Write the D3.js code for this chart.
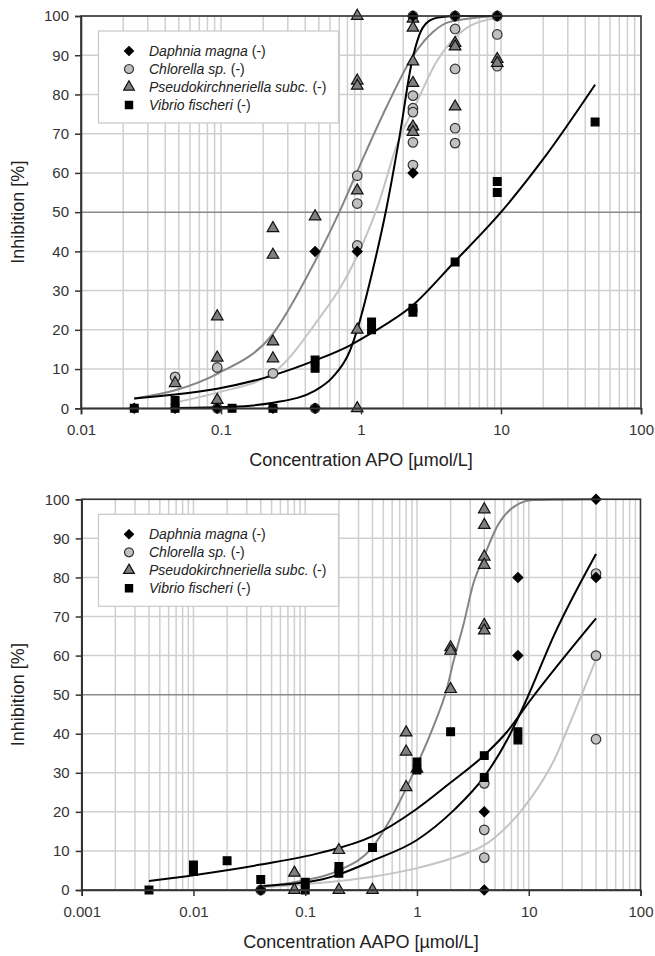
<!DOCTYPE html>
<html>
<head>
<meta charset="utf-8">
<script src="https://cdn.jsdelivr.net/npm/d3@7"></script>
<style>
body { margin: 0; background: #fff; }
svg { display: block; font-family: "Liberation Sans", Arial, sans-serif; }
</style>
</head>
<body>
<svg id="chart"></svg>
<script>
// legend names
var species = ["Daphnia magna", "Chlorella sp.", "Pseudokirchneriella subc.", "Vibrio fischeri"];
var yTicks = [0, 10, 20, 30, 40, 50, 60, 70, 80, 90, 100];
var apoTicks = [0.01, 0.1, 1, 10, 100];
var aapoTicks = [0.001, 0.01, 0.1, 1, 10, 100];

// APO measured points [conc, inhibition]
var apoDaphnia = [[0.024,0],[0.047,0],[0.094,0],[0.235,0],[0.47,0],[0.47,40],[0.94,40],[2.35,60],[2.35,100],[4.7,100],[9.4,100]];
var apoChlorella = [[0.047,8],[0.094,10.4],[0.094,0],[0.235,8.9],[0.47,0],[0.94,59.3],[0.94,52.2],[0.94,41.5],
  [2.35,100],[2.35,79.7],[2.35,76.5],[2.35,75.5],[2.35,71.4],[2.35,67.8],[2.35,62],
  [4.7,100],[4.7,96.7],[4.7,86.5],[4.7,71.4],[4.7,67.6],[9.4,100],[9.4,95.3],[9.4,87.2]];
var apoPseudo = [[0.047,6.4],[0.094,23.4],[0.094,12.9],[0.094,2.1],[0.235,45.9],[0.235,39.1],[0.235,17],[0.235,12.7],
  [0.47,48.9],[0.94,100],[0.94,83.5],[0.94,82.2],[0.94,55.5],[0.94,20],[0.94,0],
  [2.35,99.3],[2.35,97],[2.35,88.4],[2.35,82.9],[2.35,71.8],[2.35,70.4],[4.7,93.1],[4.7,92.2],[4.7,76.9],[9.4,89],[9.4,88]];
var apoVibrio = [[0.024,0],[0.047,0],[0.047,2],[0.12,0],[0.235,0],[0.47,12.3],[0.47,10.2],[1.19,22],[1.19,20],
  [2.35,25.5],[2.35,24.5],[4.7,37.3],[9.4,57.8],[9.4,55],[47,73]];

// APO fitted curves
var apoDaphniaFit = [[0.047,0.1],[0.12,0.4],[0.235,1.4],[0.47,4.5],[0.63,8],[0.83,14.5],[0.93,19.5],[1.19,34],[1.52,51],
  [1.9,70],[2.3,88],[2.6,95],[3.0,98.5],[3.66,99.7],[5,100],[9.4,100]];
var apoChlorellaFit = [[0.047,1.5],[0.094,4],[0.235,9],[0.47,21.5],[0.93,38.5],[1.33,52],[1.8,67],[2.5,78],[3.47,88.4],
  [4.3,93],[6,97.5],[9.4,99.5]];
var apoPseudoFit = [[0.024,2.5],[0.047,4.6],[0.094,8.8],[0.235,19],[0.47,37.5],[0.7,50],[0.93,60],[1.53,77],[2.37,90],
  [3.28,96],[4.3,98.5],[9.4,100]];
var apoVibrioFit = [[0.024,2.5],[0.047,3.5],[0.094,5],[0.235,8.4],[0.47,12.2],[0.83,16],[1.19,19.2],[2.3,26],[4.7,37.5],
  [10,50],[20,63.5],[47,82.5]];

// AAPO measured points
var aapoDaphnia = [[0.04,0],[4,20],[4,0],[8,80],[8,60],[40,100],[40,80]];
var aapoChlorella = [[0.04,0],[4,27.3],[4,15.4],[4,8.3],[40,81],[40,60],[40,38.6]];
var aapoPseudo = [[0.08,4.4],[0.08,0],[0.2,10.2],[0.2,0],[0.4,0],[0.8,40.3],[0.8,35.4],[0.8,26.3],[1,31],
  [2,62.1],[2,61.2],[2,51.4],[4,97.4],[4,93.4],[4,85.3],[4,83.2],[4,67.8],[4,66.4]];
var aapoVibrio = [[0.004,0],[0.01,6.4],[0.01,4.7],[0.02,7.5],[0.04,2.7],[0.1,0],[0.1,2],[0.2,6],[0.2,4.3],[0.4,10.9],
  [1,32.8],[1,30.7],[2,40.5],[4,34.4],[4,28.8],[8,40.5],[8,38.4]];

// AAPO fitted curves
var aapoDaphniaFit = [[0.04,1],[0.136,2.6],[0.2,4],[0.4,7.5],[1,12.8],[2.15,20.5],[4,29],[6.4,38.4],[9.3,48],[16.7,65],[40,86]];
var aapoChlorellaFit = [[0.04,0.7],[0.1,1.5],[0.2,2.3],[0.4,3.4],[1,5.6],[2,8],[3,9.8],[4,11.5],[6,15.5],[8.4,20],
  [12,26],[16.7,33],[23.6,43],[40,59]];
var aapoPseudoFit = [[0.04,0.8],[0.08,2],[0.2,5],[0.4,11],[0.575,18],[0.8,26],[1,32],[1.41,42],[1.85,51.5],[2.12,58.5],
  [2.61,68],[3.2,78.5],[3.94,85],[5.2,93],[7.3,98],[11,99.8],[40,100]];
var aapoVibrioFit = [[0.004,2.3],[0.01,3.8],[0.04,6.5],[0.136,9.5],[0.4,13.8],[1,20.8],[2,27.5],[4,34.5],[6.4,40.5],[10.3,48.5],[40,69.5]];

var width = 655, height = 956;
var svg = d3.select("#chart").attr("width", width).attr("height", height);

var styles = [
  {shape: d3.symbolSquare, rot: 45, fill: "#000", stroke: "#000", line: "#000", size: 48},
  {shape: d3.symbolCircle, rot: 0, fill: "#c0c0c0", stroke: "#333", line: "#c4c4c4", size: 72},
  {shape: d3.symbolTriangle, rot: 0, fill: "#808080", stroke: "#111", line: "#858585", size: 58},
  {shape: d3.symbolSquare, rot: 0, fill: "#000", stroke: "#000", line: "#000", size: 60}
];

var drawgraph = function(cfg) {
  var g = svg.append("g");
  var x = d3.scaleLog().domain(cfg.xDomain).range([cfg.left, cfg.right]);
  var y = d3.scaleLinear().domain([0, 100]).range([cfg.bottom, cfg.top]);

  // minor log grid
  var grid = [];
  var lo = Math.log10(cfg.xDomain[0]), hi = Math.log10(cfg.xDomain[1]);
  for (var e = lo; e < hi; e++) {
    for (var k = 1; k < 10; k++) grid.push(k * Math.pow(10, e));
  }
  g.selectAll(".vgrid").data(grid).enter().append("line")
    .attr("x1", d => x(d)).attr("x2", d => x(d))
    .attr("y1", cfg.top).attr("y2", cfg.bottom)
    .attr("stroke", "#cfcfcf").attr("stroke-width", 1.5);
  g.selectAll(".hgrid").data(yTicks).enter().append("line")
    .attr("x1", cfg.left).attr("x2", cfg.right)
    .attr("y1", d => y(d)).attr("y2", d => y(d))
    .attr("stroke", d => d == 50 ? "#8a8a8a" : "#cfcfcf").attr("stroke-width", 1.5);

  // legend box
  var lg = g.append("g");
  lg.append("rect").attr("x", 98.5).attr("y", cfg.top + 15).attr("width", 240).attr("height", 92)
    .attr("fill", "#fff").attr("stroke", "#c8c8c8").attr("stroke-width", 1.2);
  species.forEach(function(name, i) {
    var yy = cfg.top + 35 + i * 18;
    var st = styles[i];
    lg.append("path").attr("d", d3.symbol().type(st.shape).size(st.size - 8)())
      .attr("transform", "translate(129," + yy + ") rotate(" + st.rot + ")")
      .attr("fill", st.fill).attr("stroke", st.stroke).attr("stroke-width", 1.2);
    var t = lg.append("text").attr("x", 149).attr("y", yy + 5).attr("font-size", 14).attr("fill", "#222");
    t.append("tspan").attr("font-style", "italic").text(name);
    t.append("tspan").text(" (-)");
  });

  // fitted curves
  var line = d3.line().x(d => x(d[0])).y(d => y(d[1])).curve(d3.curveMonotoneX);
  var fits = cfg.fits;
  [1, 2, 0, 3].forEach(function(i) {
    g.append("path").datum(fits[i]).attr("d", line)
      .attr("fill", "none").attr("stroke", styles[i].line).attr("stroke-width", 2);
  });

  // points
  [1, 2, 3, 0].forEach(function(i) {
    var st = styles[i];
    g.selectAll(".pt" + i).data(cfg.points[i]).enter().append("path")
      .attr("d", d3.symbol().type(st.shape).size(st.size)())
      .attr("transform", d => "translate(" + x(d[0]) + "," + y(d[1]) + ") rotate(" + st.rot + ")")
      .attr("fill", st.fill).attr("stroke", st.stroke).attr("stroke-width", 1.2);
  });

  // frame
  g.append("rect").attr("x", cfg.left).attr("y", cfg.top)
    .attr("width", cfg.right - cfg.left).attr("height", cfg.bottom - cfg.top)
    .attr("fill", "none").attr("stroke", "#333").attr("stroke-width", 1.6);

  // axes
  var yAxis = d3.axisLeft(y).tickValues(yTicks).tickSize(6).tickPadding(6);
  var ya = g.append("g").attr("transform", "translate(" + cfg.left + ",0)").call(yAxis);
  var xAxis = d3.axisBottom(x).tickValues(cfg.ticks).tickSize(6).tickPadding(10)
    .tickFormat(d => String(d));
  var xa = g.append("g").attr("transform", "translate(0," + cfg.bottom + ")").call(xAxis);
  [ya, xa].forEach(function(a) {
    a.select(".domain").attr("stroke", "#333").attr("stroke-width", 1.6);
    a.selectAll(".tick line").attr("stroke", "#333").attr("stroke-width", 1.5);
    a.selectAll("text").attr("font-size", 15).attr("fill", "#333")
      .attr("font-family", "'Liberation Sans', Arial, sans-serif");
  });

  // titles
  g.append("text").attr("transform", "translate(24," + ((cfg.top + cfg.bottom) / 2) + ") rotate(-90)")
    .attr("text-anchor", "middle").attr("font-size", 18).attr("fill", "#222").text("Inhibition [%]");
  g.append("text").attr("x", (cfg.left + cfg.right) / 2).attr("y", cfg.bottom + 58)
    .attr("text-anchor", "middle").attr("font-size", 18).attr("fill", "#222").text(cfg.xTitle);
};

drawgraph({
  left: 81, right: 641, top: 16, bottom: 408.3,
  xDomain: [0.01, 100], ticks: apoTicks, xTitle: "Concentration APO [µmol/L]",
  points: [apoDaphnia, apoChlorella, apoPseudo, apoVibrio],
  fits: [apoDaphniaFit, apoChlorellaFit, apoPseudoFit, apoVibrioFit]
});
drawgraph({
  left: 81.7, right: 640.5, top: 499.3, bottom: 890,
  xDomain: [0.001, 100], ticks: aapoTicks, xTitle: "Concentration AAPO [µmol/L]",
  points: [aapoDaphnia, aapoChlorella, aapoPseudo, aapoVibrio],
  fits: [aapoDaphniaFit, aapoChlorellaFit, aapoPseudoFit, aapoVibrioFit]
});
</script>
</body>
</html>
